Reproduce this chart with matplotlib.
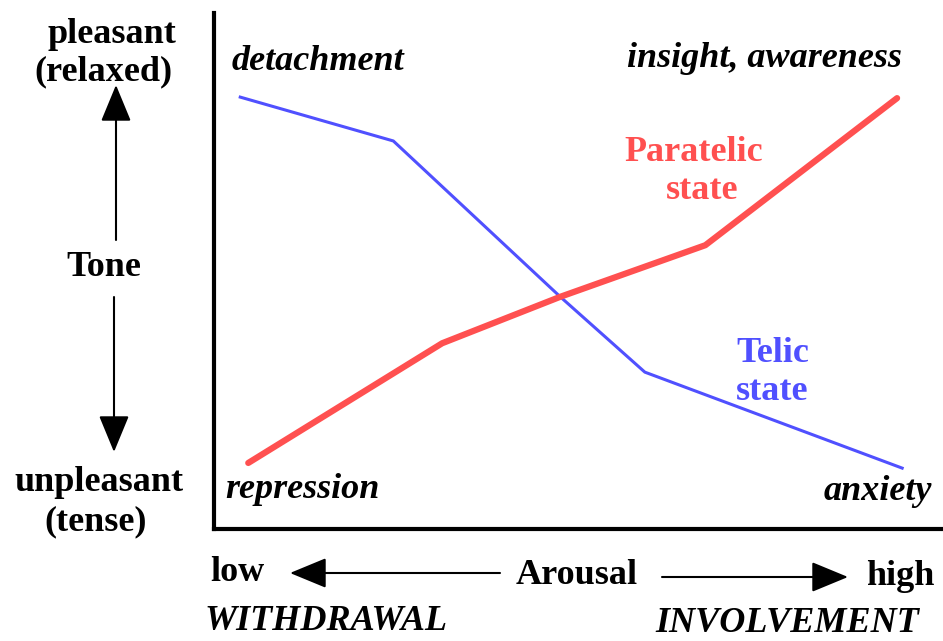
import matplotlib
matplotlib.use("Agg")
import matplotlib.pyplot as plt
from matplotlib.patches import FancyArrowPatch

# curves, in axes units (0-100 both ways)
telic_x = [3.6, 24.6, 47.5, 59.1, 94.4]
telic_y = [83.7, 75.2, 45.0, 30.4, 11.8]
paratelic_x = [4.7, 31.3, 47.5, 67.4, 93.7]
paratelic_y = [12.8, 36.0, 45.0, 55.0, 83.5]

W, H = 943, 641
BLUE = "#5050ff"
RED = "#ff5050"
FONT = "Liberation Serif"


def px(x, y):
    # pixel position (from top-left) -> figure fraction
    return x / W, 1 - y / H


fig = plt.figure(figsize=(W / 100, H / 100), dpi=100)
ax = fig.add_axes([214 / W, (H - 529) / H, (W - 214) / W, (529 - 13) / H])
ax.plot(telic_x, telic_y, color=BLUE, lw=2.2, solid_joinstyle="round")
ax.plot(paratelic_x, paratelic_y, color=RED, lw=4.5, solid_capstyle="round",
        solid_joinstyle="round")
ax.set_xlim(0, 100)
ax.set_ylim(0, 100)
ax.set_xticks([])
ax.set_yticks([])
ax.spines["top"].set_visible(False)
ax.spines["right"].set_visible(False)
for s in ("left", "bottom"):
    ax.spines[s].set_linewidth(3)
ax.patch.set_visible(False)

# labels: (text, left x, baseline y, colour, italic)
labels = [
    ("pleasant", 48, 43, "black", False),
    ("(relaxed)", 34, 80, "black", False),
    ("Tone", 66, 276, "black", False),
    ("unpleasant", 14, 491, "black", False),
    ("(tense)", 44, 530, "black", False),
    ("detachment", 232, 70, "black", True),
    ("insight, awareness", 627, 67, "black", True),
    ("repression", 225, 498, "black", True),
    ("anxiety", 824, 500, "black", True),
    ("Paratelic", 624, 161, RED, False),
    ("state", 666, 199, RED, False),
    ("Telic", 736, 362, BLUE, False),
    ("state", 736, 400, BLUE, False),
    ("low", 210, 581, "black", False),
    ("Arousal", 516, 584, "black", False),
    ("high", 866, 585, "black", False),
    ("WITHDRAWAL", 205, 630, "black", True),
    ("INVOLVEMENT", 655, 632, "black", True),
]
for txt, x, y, col, it in labels:
    fig.text(*px(x, y), txt, ha="left", va="baseline", color=col,
             fontsize=26, fontweight="bold", family=FONT,
             style="italic" if it else "normal")

# axis arrows
arrows = [
    ((116, 240), (116, 85)),
    ((114, 297), (114, 452)),
    ((500, 573), (290, 573)),
    ((662, 577), (848, 577)),
]
for a, b in arrows:
    fig.add_artist(FancyArrowPatch(px(*a), px(*b), transform=fig.transFigure,
                                   arrowstyle="-|>,head_length=2.3,head_width=0.95",
                                   mutation_scale=10, lw=1.5, color="black",
                                   shrinkA=0, shrinkB=0))

fig.savefig("out.png", dpi=100)
